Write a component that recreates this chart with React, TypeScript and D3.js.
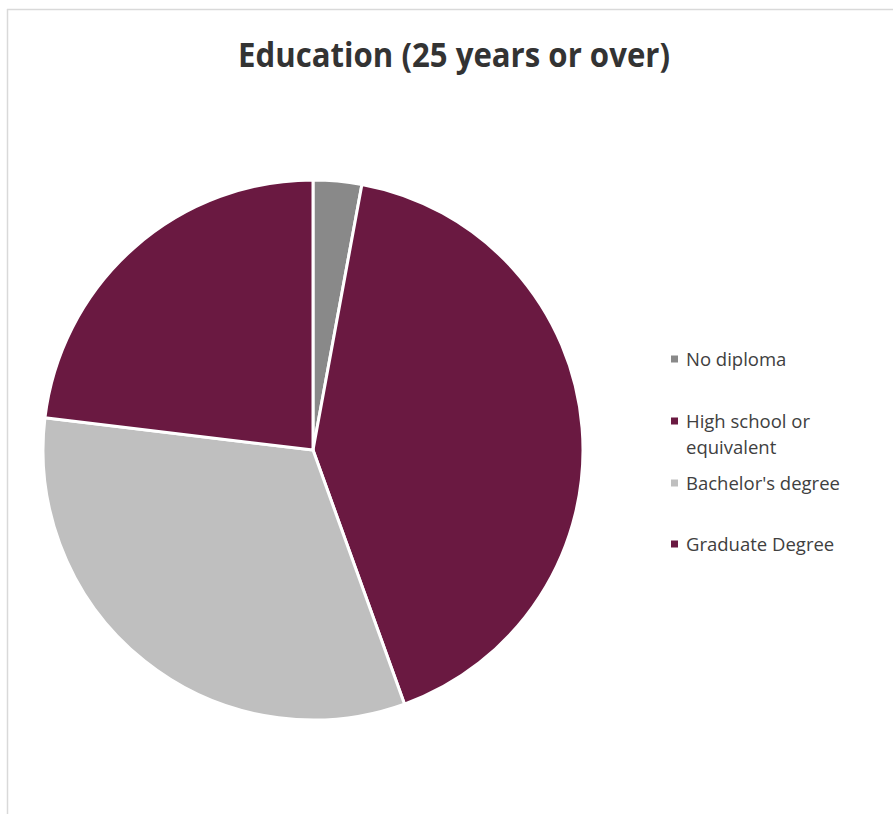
import React from "react";
import * as d3 from "d3";

const categories = ["No diploma", "High school or equivalent", "Bachelor's degree", "Graduate Degree"];
const values = [2.9, 41.6, 32.4, 23.1];
const colors = ["#898989", "#6a1941", "#bfbfbf", "#6a1941"];
const legendLines = [["No diploma"], ["High school or", "equivalent"], ["Bachelor's degree"], ["Graduate Degree"]];
const legendY = [359, 421, 483, 544];
const title = "Education (25 years or over)";

export default function App() {
  const W = 893, H = 814;
  const cx = 313, cy = 450, r = 270;
  const pie = d3.pie<number>().sort(null).value((d) => d)(values);
  const arc = d3.arc<d3.PieArcDatum<number>>().innerRadius(0).outerRadius(r);
  const font = "'Open Sans', 'DejaVu Sans', sans-serif";
  return (
    <svg width={W} height={H} style={{ position: "absolute", left: 0, top: 0 }}>
      <rect x={0} y={0} width={W} height={H} fill="#fff" />
      <line x1={7.5} y1={9} x2={7.5} y2={H} stroke="#d9d9d9" strokeWidth={1.5} />
      <line x1={7} y1={9.5} x2={W} y2={9.5} stroke="#d9d9d9" strokeWidth={1.5} />
      <text x={454} y={67} textAnchor="middle" fontFamily={font} fontWeight="bold" fontSize={34} fill="#333333" textLength={432} lengthAdjust="spacingAndGlyphs">
        {title}
      </text>
      <g transform={`translate(${cx},${cy})`}>
        {pie.map((p, i) => (
          <path key={categories[i]} d={arc(p) || ""} fill={colors[i]} stroke="#ffffff" strokeWidth={3} strokeLinejoin="round" />
        ))}
      </g>
      {categories.map((c, i) => (
        <g key={c}>
          <rect x={671} y={legendY[i] - 3.5} width={7} height={7} fill={colors[i]} />
          {legendLines[i].map((ln, j) => (
            <text key={j} x={686} y={legendY[i] + 6.5 + j * 26} fontFamily={font} fontSize={18.5} fill="#404040">
              {ln}
            </text>
          ))}
        </g>
      ))}
    </svg>
  );
}
